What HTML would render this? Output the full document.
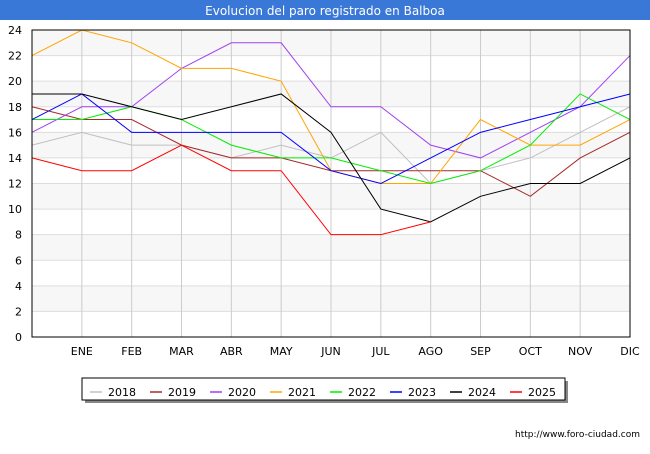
<!DOCTYPE html>
<html><head><meta charset="utf-8"><style>
body{margin:0;width:650px;height:450px;background:#fff;font-family:"DejaVu Sans",sans-serif;overflow:hidden}
</style></head><body>
<svg width="650" height="450" font-family="DejaVu Sans, sans-serif">
<rect x="0" y="0" width="650" height="20" fill="#3a78d8"/>
<text x="325" y="15" text-anchor="middle" fill="#fff" font-size="12">Evolucion del paro registrado en Balboa</text>
<g id="grid"></g><g id="lines"></g>
<rect x="32" y="30" width="598" height="307" fill="none" stroke="#000"/>
<g id="legend"></g>
<text x="640" y="437" text-anchor="end" font-size="9" fill="#000">http://www.foro-ciudad.com</text>
</svg>
<script>
const months=["","ENE","FEB","MAR","ABR","MAY","JUN","JUL","AGO","SEP","OCT","NOV","DIC"];
const yTicks=[0,2,4,6,8,10,12,14,16,18,20,22,24];
const years=["2018","2019","2020","2021","2022","2023","2024","2025"];
const colors=["#c0c0c0","#a52a2a","#a040f0","#ffa500","#00ee00","#0000ff","#000000","#ff0000"];
const s2018=[15,16,15,15,14,15,14,16,12,13,14,16,18];
const s2019=[18,17,17,15,14,14,13,13,13,13,11,14,16];
const s2020=[16,18,18,21,23,23,18,18,15,14,16,18,22];
const s2021=[22,24,23,21,21,20,13,12,12,17,15,15,17];
const s2022=[17,17,18,17,15,14,14,13,12,13,15,19,17];
const s2023=[17,19,16,16,16,16,13,12,14,16,17,18,19];
const s2024=[19,19,18,17,18,19,16,10,9,11,12,12,14];
const s2025=[14,13,13,15,13,13,8,8,9];
const series=[s2018,s2019,s2020,s2021,s2022,s2023,s2024,s2025];
const NS="http://www.w3.org/2000/svg";
const X=i=>32+i*(598/12), Y=v=>337-v*(307/24);
const grid=document.getElementById('grid');
function el(t,a,p){const e=document.createElementNS(NS,t);for(const k in a)e.setAttribute(k,a[k]);p.appendChild(e);return e;}
for(let i=0;i<12;i++){if(i%2==1){const r=el('rect',{x:32,y:Y(yTicks[i+1]),width:598,height:Y(yTicks[i])-Y(yTicks[i+1]),fill:'#f7f7f7'},grid);

}}
yTicks.forEach(v=>{const l=el('line',{x1:32,x2:630,y1:Y(v),y2:Y(v),stroke:'#ddd'},grid);


const t=el('text',{x:22,y:Y(v)+4,'text-anchor':'end','font-size':11},grid);t.textContent=v;

});
months.forEach((m,i)=>{if(i==0)return;const l=el('line',{x1:X(i),x2:X(i),y1:30,y2:337,stroke:'#ccc'},grid);


const t=el('text',{x:X(i),y:355,'text-anchor':'middle','font-size':11},grid);t.textContent=m;

});
const lg=document.getElementById('lines');
series.forEach((s,k)=>{const p=el('polyline',{points:s.map((v,i)=>X(i)+','+Y(v)).join(' '),fill:'none',stroke:colors[k],'stroke-width':1},lg);

});
const leg=document.getElementById('legend');
el('rect',{x:85,y:381,width:483,height:22,fill:'#888'},leg);
el('rect',{x:82,y:378,width:483,height:22,fill:'#fff',stroke:'#000'},leg);
years.forEach((y,k)=>{const x0=90+k*60;
const l=el('line',{x1:x0,x2:x0+12,y1:392,y2:392,stroke:colors[k],'stroke-width':1.5},leg);


const t=el('text',{x:x0+18,y:396,'font-size':11},leg);t.textContent=y;

});
</script>
</body></html>
